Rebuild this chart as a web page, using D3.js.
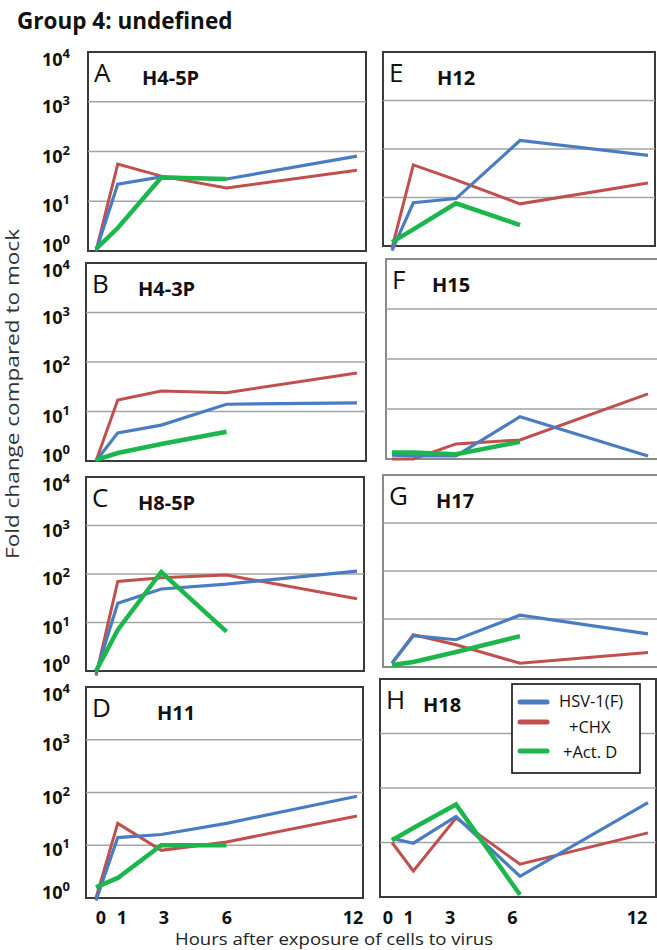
<!DOCTYPE html>
<html>
<head>
<meta charset="utf-8">
<script src="https://cdn.jsdelivr.net/npm/d3@7"></script>
<style>
  body { margin: 0; background: #fff; }
  text { font-family: "Open Sans", Lato, sans-serif; }
</style>
</head>
<body>
<div id="chart"></div>
<script>
// data
var hours = [0, 1, 3, 6, 12];
var actDHours = [0, 1, 3, 6];
var panelLetters = ["A", "B", "C", "D", "E", "F", "G", "H"];
var geneNames = ["H4-5P", "H4-3P", "H8-5P", "H11", "H12", "H15", "H17", "H18"];
var tickLabels = ["0", "1", "3", "6", "12"];
var yTickValues = [1, 10, 100, 1000, 10000];
var seriesNames = ["HSV-1(F)", "+CHX", "+Act. D"];

var hsvF = [
  [1, 22, 31, 28, 81],
  [1, 3.7, 5.3, 14, 15],
  [0.9, 25, 49, 62, 115],
  [0.9, 14, 16, 26, 85],
  [0.8, 7.8, 9.5, 150, 74],
  [1.2, 1.15, 1.15, 7, 1.15],
  [1.2, 4.5, 3.7, 12, 4.9],
  [12, 9.7, 30, 2.4, 54]
];
var chx = [
  [1, 56, 32, 18.5, 42],
  [1, 17, 26, 24, 60],
  [0.8, 70, 84, 95, 31],
  [1, 26, 8, 11.5, 36],
  [0.9, 47, 23, 7.4, 20],
  [1, 1, 2.0, 2.4, 20],
  [1.2, 4.7, 2.9, 1.2, 2.0],
  [10, 3.0, 28, 4.0, 15]
];
var actD = [
  [1.1, 2.9, 30, 28],
  [1.05, 1.45, 2.2, 3.9],
  [1, 7, 110, 6.5],
  [1.6, 2.4, 10, 10],
  [1.2, 2.2, 7.6, 2.7],
  [1.35, 1.35, 1.25, 2.2],
  [1.1, 1.27, 2.05, 4.4],
  [11, 18.5, 50, 1.1]
];

var colors = ["#4a7cc2", "#c0504d", "#1db64c"];
var widths = [3.2, 3, 4.5];

var svg = d3.select("#chart").append("svg")
  .attr("width", 657)
  .attr("height", 950);

// panel boxes (pixel layout)
var frames = [
  {x0: 88, x1: 366, y0: 52, y1: 251, gx: 142},
  {x0: 86, x1: 366, y0: 263, y1: 461, gx: 138},
  {x0: 86, x1: 364, y0: 477, y1: 671, gx: 138},
  {x0: 86, x1: 363, y0: 687, y1: 898, gx: 157},
  {x0: 383, x1: 655, y0: 52, y1: 246, gx: 437},
  {x0: 386, x1: 658, y0: 259, y1: 459, gx: 432},
  {x0: 383, x1: 658, y0: 475, y1: 667, gx: 436},
  {x0: 380, x1: 656, y0: 679, y1: 897, gx: 423}
];

// x scales, one per column
var xLeft = d3.scaleLinear().domain([0, 12]).range([96, 357]);
var xRight = d3.scaleLinear().domain([0, 12]).range([392, 648]);
var labelLeft = d3.scaleLinear().domain([0, 12]).range([101, 353]);
var labelRight = d3.scaleLinear().domain([0, 12]).range([388, 637]);

svg.append("text")
  .attr("x", 17)
  .attr("y", 29)
  .attr("font-size", 22.5)
  .attr("font-weight", "bold")
  .attr("fill", "#111")
  .text("Group 4: undefined");

frames.forEach(function (f, i) {
  var left = i < 4;
  var x = left ? xLeft : xRight;
  var y = d3.scaleLog().domain([1, 10000]).range([f.y1, f.y0]);
  var g = svg.append("g");

  g.append("rect")
    .attr("x", f.x0)
    .attr("y", f.y0)
    .attr("width", f.x1 - f.x0)
    .attr("height", f.y1 - f.y0)
    .attr("fill", "#fff")
    .attr("stroke", (i == 5 || i == 6) ? "#8a8a8a" : "#3a3a3a")
    .attr("stroke-width", 2);

  // grid lines at 10, 100, 1000
  g.selectAll("line.grid")
    .data([10, 100, 1000])
    .enter()
    .append("line")
    .attr("class", "grid")
    .attr("x1", f.x0)
    .attr("x2", f.x1)
    .attr("y1", d => y(d))
    .attr("y2", d => y(d))
    .attr("stroke", "#a3a3a3")
    .attr("stroke-width", 1.6);

  // y tick labels only on the left column
  if (left) {
    var lab = svg.selectAll(null)
      .data(yTickValues)
      .enter()
      .append("text")
      .attr("x", 42)
      .attr("y", d => y(d) + (d == 1 ? 1 : d == 10000 ? 14 : 11))
      .attr("font-size", 18)
      .attr("font-weight", "bold")
      .attr("fill", "#111");
    lab.append("tspan").text("10");
    lab.append("tspan")
      .attr("dy", -8)
      .attr("font-size", 13)
      .text(d => Math.round(Math.log10(d)));
  }

  // panel letter and gene
  g.append("text")
    .attr("x", f.x0 + 6)
    .attr("y", f.y0 + 30)
    .attr("font-family", "Liberation Sans, Arial, sans-serif")
    .attr("font-size", 26)
    .attr("fill", "#111")
    .text(panelLetters[i]);

  g.append("text")
    .attr("x", f.gx)
    .attr("y", f.y0 + 33)
    .attr("font-size", 20)
    .attr("font-weight", "bold")
    .attr("fill", "#111")
    .text(geneNames[i]);

  var line = d3.line()
    .x(d => x(d[0]))
    .y(d => y(d[1]));

  var sets = [
    d3.zip(hours, chx[i]),
    d3.zip(hours, hsvF[i]),
    d3.zip(actDHours, actD[i])
  ];
  var order = [1, 0, 2];
  sets.forEach(function (pts, k) {
    var s = order[k];
    g.append("path")
      .datum(pts)
      .attr("fill", "none")
      .attr("stroke", colors[s])
      .attr("stroke-width", widths[s])
      .attr("stroke-linejoin", "miter")
      .attr("d", line);
  });

  // hour labels under the bottom panels
  if (i == 3 || i == 7) {
    var lx = left ? labelLeft : labelRight;
    svg.selectAll(null)
      .data(hours)
      .enter()
      .append("text")
      .attr("x", d => lx(d))
      .attr("y", 924)
      .attr("text-anchor", "middle")
      .attr("font-size", 18)
      .attr("font-weight", "bold")
      .attr("fill", "#111")
      .text((d, j) => tickLabels[j]);
  }
});

// legend inside H
var legend = svg.append("g").attr("transform", "translate(512,684)");
legend.append("rect")
  .attr("width", 128)
  .attr("height", 89)
  .attr("fill", "#fff")
  .attr("stroke", "#111")
  .attr("stroke-width", 1.6);
var legY = [18, 38, 67];
var legTextY = [23, 49, 74];
var legTextX = [47, 57, 51];
seriesNames.forEach(function (name, k) {
  legend.append("line")
    .attr("x1", 8)
    .attr("x2", 35)
    .attr("y1", legY[k])
    .attr("y2", legY[k])
    .attr("stroke", colors[k])
    .attr("stroke-width", 5)
    .attr("stroke-linecap", "round");
  legend.append("text")
    .attr("x", legTextX[k])
    .attr("y", legTextY[k])
    .attr("font-size", 16.5)
    .attr("fill", "#111")
    .text(name);
});

// axis titles
svg.append("text")
  .attr("transform", "translate(19,394) rotate(-90)")
  .attr("text-anchor", "middle")
  .attr("font-size", 19)
  .attr("textLength", 330)
  .attr("lengthAdjust", "spacingAndGlyphs")
  .attr("fill", "#333")
  .text("Fold change compared to mock");

svg.append("text")
  .attr("x", 334)
  .attr("y", 945)
  .attr("text-anchor", "middle")
  .attr("font-size", 17)
  .attr("textLength", 318)
  .attr("lengthAdjust", "spacingAndGlyphs")
  .attr("fill", "#222")
  .text("Hours after exposure of cells to virus");
</script>
</body>
</html>
